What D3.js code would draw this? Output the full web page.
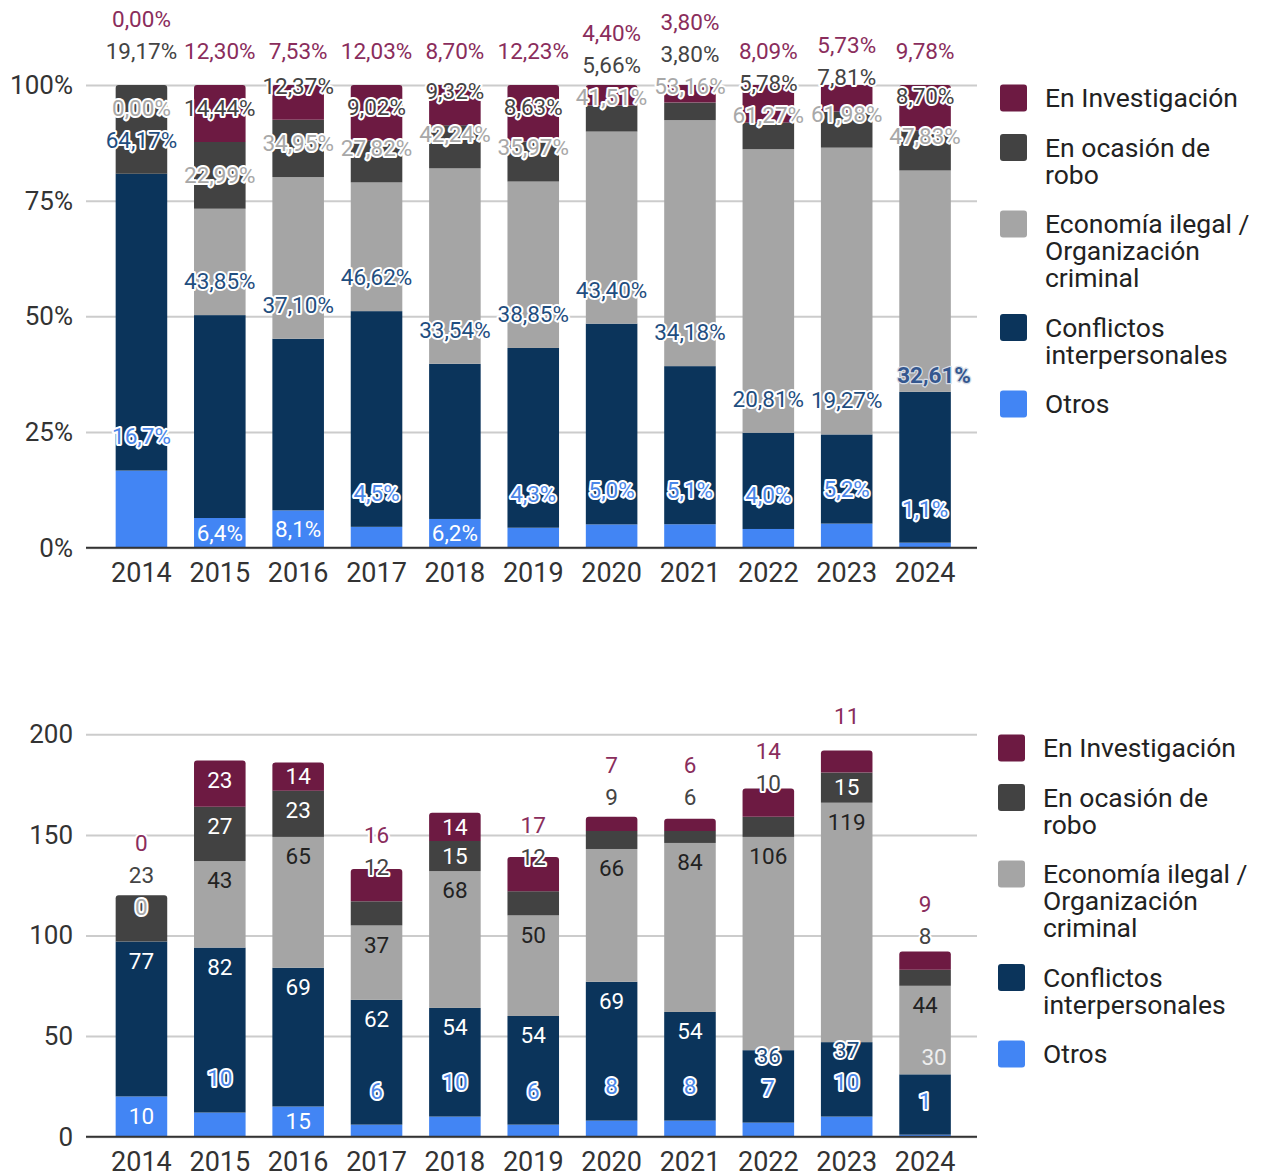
<!DOCTYPE html>
<html>
<head>
<meta charset="utf-8">
<script src="https://cdn.jsdelivr.net/npm/d3@7"></script>
<style>
  html, body { margin: 0; padding: 0; background: #fff; }
  svg { display: block; font-family: Roboto, "Noto Sans", sans-serif; }
</style>
</head>
<body>
<svg id="chart" width="1267" height="1176"></svg>
<script>
// ---------------- DATA ----------------
const years = ["2014","2015","2016","2017","2018","2019","2020","2021","2022","2023","2024"];
const seriesKeys = ["Otros","Conflictos interpersonales","Economía ilegal / Organización criminal","En ocasión de robo","En Investigación"];
const otros         = [20, 12, 15,  6, 10,  6,  8,  8,   7,  10,  1];
const conflictos    = [77, 82, 69, 62, 54, 54, 69, 54,  36,  37, 30];
const economia      = [ 0, 43, 65, 37, 68, 50, 66, 84, 106, 119, 44];
const robo          = [23, 27, 23, 12, 15, 12,  9,  6,  10,  15,  8];
const investigacion = [ 0, 23, 14, 16, 14, 17,  7,  6,  14,  11,  9];
// labels shown for "Otros" in the count chart (as printed in the source)
const otrosCountLabels = ["10","10","15","6","10","6","8","8","7","10","1"];
const pctTicks = [0, 0.25, 0.5, 0.75, 1];
const pctTickLabels = ["0%","25%","50%","75%","100%"];
const countTicks = [0, 50, 100, 150, 200];
const countTickLabels = ["0","50","100","150","200"];
const legendLines = [["En Investigación"],["En ocasión de","robo"],["Economía ilegal /","Organización","criminal"],["Conflictos","interpersonales"],["Otros"]];
const legendKeys = ["En Investigación","En ocasión de robo","Economía ilegal / Organización criminal","Conflictos interpersonales","Otros"];
const emphasisLabel = {year: "2024", key: "Conflictos interpersonales"};

// ---------------- STYLE ----------------
const barColor = {
  "Otros": "#4285f4",
  "Conflictos interpersonales": "#0b345b",
  "Economía ilegal / Organización criminal": "#a5a5a5",
  "En ocasión de robo": "#424242",
  "En Investigación": "#6d1a42"
};
const outsideText = {
  "Otros": "#4a86e8",
  "Conflictos interpersonales": "#1f4e80",
  "Economía ilegal / Organización criminal": "#a8a8a8",
  "En ocasión de robo": "#444444",
  "En Investigación": "#8a2d5c"
};
const insideText = {
  "Otros": "#ffffff",
  "Conflictos interpersonales": "#ffffff",
  "Economía ilegal / Organización criminal": "#222222",
  "En ocasión de robo": "#ffffff",
  "En Investigación": "#ffffff"
};

const rows = years.map((yr, i) => ({
  year: yr,
  "Otros": otros[i],
  "Conflictos interpersonales": conflictos[i],
  "Economía ilegal / Organización criminal": economia[i],
  "En ocasión de robo": robo[i],
  "En Investigación": investigacion[i]
}));
const totals = rows.map(r => d3.sum(seriesKeys, k => r[k]));

const svg = d3.select("#chart");
const plotLeft = 88, plotRight = 978.5, gridLeft = 86, gridRight = 977;
const x = d3.scaleBand().domain(years).range([plotLeft, plotRight]).paddingInner(0.342).paddingOuter(0.353);
const bw = x.bandwidth();

const LABEL_FS = 22.5;
const measurer = svg.append("text").attr("font-size", LABEL_FS).attr("visibility", "hidden");
function textWidth(s) { measurer.text(s); return measurer.node().getComputedTextLength(); }

function topRoundedPath(x0, yTop, w, h, r) {
  r = Math.min(r, h, w / 2);
  return `M${x0},${yTop + h}V${yTop + r}Q${x0},${yTop} ${x0 + r},${yTop}H${x0 + w - r}Q${x0 + w},${yTop} ${x0 + w},${yTop + r}V${yTop + h}Z`;
}

function fmtPct(v, digits) {
  return (v * 100).toFixed(digits).replace(".", ",") + "%";
}

function drawChart(opt) {
  const y = d3.scaleLinear().domain(opt.domain).range([opt.yBase, opt.yTop]);
  const g = svg.append("g");

  // gridlines + y labels
  const yAxis = d3.axisLeft(y).tickValues(opt.ticks)
    .tickFormat((d, i) => opt.tickLabels[i])
    .tickSize(-(gridRight - gridLeft)).tickPadding(13);
  const gy = g.append("g").attr("transform", `translate(${gridLeft},0)`).call(yAxis);
  gy.select(".domain").remove();
  gy.selectAll(".tick line").attr("stroke", "#cccccc").attr("stroke-width", 2);
  gy.selectAll(".tick text").attr("font-size", 26).attr("fill", "#333").attr("font-family", "Roboto").attr("x", -(plotLeft - gridLeft) - 11);

  // stack
  const stack = d3.stack().keys(seriesKeys);
  if (opt.expand) stack.offset(d3.stackOffsetExpand);
  const layers = stack(rows);

  // bars
  const barsG = g.append("g");
  years.forEach((yr, i) => {
    // find topmost non-zero layer
    let topIdx = -1;
    layers.forEach((L, li) => { if (L[i][1] - L[i][0] > 0) topIdx = li; });
    layers.forEach((L, li) => {
      const d = L[i];
      const yTop = y(d[1]), yBot = y(d[0]);
      const h = yBot - yTop;
      if (h <= 0) return;
      if (li === topIdx) {
        barsG.append("path").attr("d", topRoundedPath(x(yr), yTop, bw, h, 3)).attr("fill", barColor[L.key]);
      } else {
        barsG.append("rect").attr("x", x(yr)).attr("y", yTop).attr("width", bw).attr("height", h).attr("fill", barColor[L.key]);
      }
    });
  });

  // baseline
  g.append("line").attr("x1", gridLeft).attr("x2", gridRight).attr("y1", y(0)).attr("y2", y(0))
    .attr("stroke", "#333").attr("stroke-width", 2);

  // x axis
  const gx = g.append("g").attr("transform", `translate(0,${opt.yBase})`)
    .call(d3.axisBottom(x).tickSize(0).tickPadding(15));
  gx.select(".domain").remove();
  gx.selectAll(".tick text").attr("font-size", 27).attr("fill", "#333").attr("font-family", "Roboto");

  // labels
  const labG = g.append("g").attr("font-size", LABEL_FS).attr("text-anchor", "middle");
  years.forEach((yr, i) => {
    let prevY = Infinity;
    const cx = x(yr) + bw / 2;
    layers.forEach((L, li) => {
      const key = L.key;
      const d = L[i];
      const yTop = y(d[1]), yBot = y(d[0]);
      const h = yBot - yTop;
      const txt = opt.labelText(key, i);
      const w = textWidth(txt);
      if (emphasisLabel.year === yr && emphasisLabel.key === key) {
        const ey = yTop - 17;
        const t = labG.append("text").attr("x", cx + 9).attr("y", ey).attr("dy", "0.35em")
          .attr("font-weight", "bold").text(txt);
        opt.emphasisStyle(t);
        prevY = ey;
        return;
      }
      const fits = h >= 26 && w <= bw - 4;
      let ly = fits ? yTop + Math.min(19.5, h / 2) : yTop - 34;
      let pushed = false;
      if (prevY - ly < 28) { ly = prevY - 32; pushed = true; }
      prevY = ly;
      const t = labG.append("text").attr("x", cx).attr("y", ly).attr("dy", "0.35em").text(txt);
      if (fits && !pushed) {
        t.attr("fill", insideText[key]);
      } else {
        t.attr("fill", outsideText[key]).attr("stroke", "#fff").attr("stroke-width", 4)
          .attr("stroke-linejoin", "round").attr("paint-order", "stroke");
      }
    });
  });

  // legend
  const lg = g.append("g").attr("font-size", 26.5).attr("fill", "#222");
  let ly = opt.legendY;
  legendKeys.forEach((k, li) => {
    const lines = legendLines[li];
    lg.append("rect").attr("x", opt.legendX).attr("y", ly - 13.5).attr("width", 27).attr("height", 27)
      .attr("rx", 3).attr("fill", barColor[k]);
    lines.forEach((s, j) => {
      lg.append("text").attr("x", opt.legendX + 45).attr("y", ly + j * 27).attr("dy", "0.35em").text(s);
    });
    ly += lines.length * 27 + 22.5;
  });
}

// Percent chart
drawChart({
  domain: [0, 1], yBase: 547.7, yTop: 85, expand: true,
  ticks: pctTicks, tickLabels: pctTickLabels,
  labelText: (key, i) => fmtPct(rows[i][key] / totals[i], key === "Otros" ? 1 : 2),
  emphasisStyle: t => t.attr("fill", "#34578f").attr("stroke", "#d8dde6").attr("stroke-width", 2.5)
    .attr("stroke-linejoin", "round").attr("paint-order", "stroke"),
  legendX: 1000, legendY: 98
});

// Count chart
drawChart({
  domain: [0, 200], yBase: 1136.7, yTop: 734.3, expand: false,
  ticks: countTicks, tickLabels: countTickLabels,
  labelText: (key, i) => key === "Otros" ? otrosCountLabels[i] : String(rows[i][key]),
  emphasisStyle: t => t.attr("fill", "#eeeeee").attr("font-weight", "normal"),
  legendX: 998, legendY: 748
});

measurer.remove();
</script>
</body>
</html>
